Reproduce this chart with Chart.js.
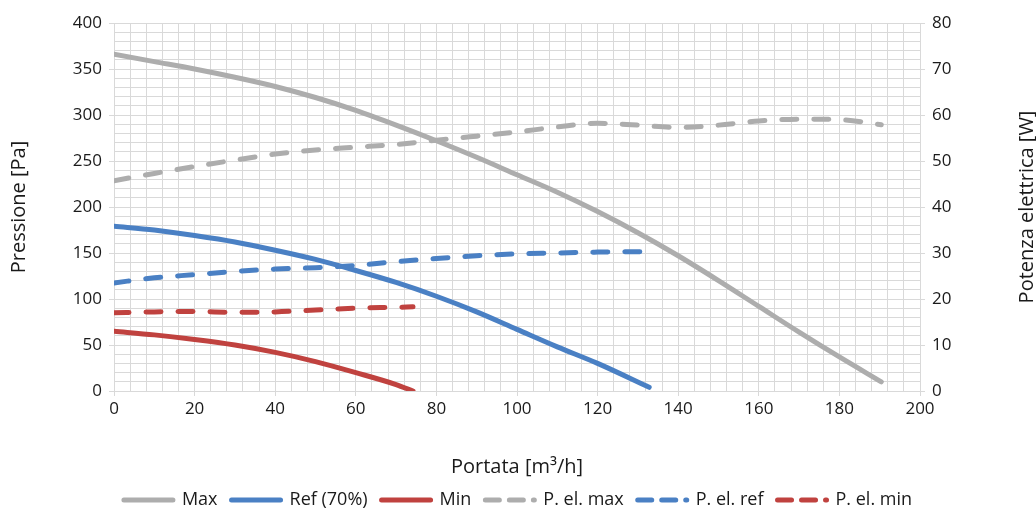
<!DOCTYPE html>
<html>
<head>
<meta charset="utf-8">
<script src="https://cdn.jsdelivr.net/npm/chart.js@4"></script>
<style>
  html, body { margin: 0; padding: 0; background: #fff; }
  #wrap { width: 1036px; height: 510px; }
</style>
</head>
<body>
<div id="wrap"><canvas id="chart" width="1036" height="510"></canvas></div>
<script>
// Portata [m3/h] for each curve
const qMax = [0, 10, 20, 30, 40, 50, 60, 70, 80, 90, 100, 110, 120, 130, 140, 150, 160, 170, 180, 190.4];
const qRef = [0, 10, 20, 30, 40, 50, 60, 70, 80, 90, 100, 110, 120, 132.8];
const qMin = [0, 10, 20, 30, 40, 50, 60, 70, 74.2];

// Pressione [Pa]
const pressMax = [366, 358, 350, 341, 331, 319, 305, 289, 272, 254, 235, 216, 195, 172, 147, 120, 92, 64, 37, 10];
const pressRef = [179, 175, 169, 162, 153, 143, 131, 118, 103, 86, 67, 48, 30, 4];
const pressMin = [65, 61, 56, 50, 42, 32, 20, 7, 0];

// Potenza elettrica [W]
const powMax = [45.7, 47.3, 48.8, 50.2, 51.5, 52.4, 53.0, 53.6, 54.5, 55.4, 56.3, 57.4, 58.2, 57.8, 57.3, 57.8, 58.7, 59.1, 59.0, 57.9];
const powRef = [23.5, 24.6, 25.3, 26.0, 26.5, 26.8, 27.3, 28.1, 28.8, 29.4, 29.8, 30.0, 30.2, 30.3];
const powMin = [17.0, 17.2, 17.3, 17.1, 17.2, 17.6, 18.0, 18.2, 18.3];

const xLabelStep = 20;
const yLabelStep = 50;

const gray = '#adadad';
const blue = '#4a80c4';
const red = '#c0423f';
const textColor = '#1a1a1a';
const gridColor = '#d9d9d9';
const lineDash = [15, 17];
const fontFamily = '"Open Sans"';

function pts(xs, ys) {
    return xs.map((x, i) => ({ x: x, y: ys[i] }));
}

function series(label, xs, ys, color, axis, dashed) {
    return {
        label: label,
        data: pts(xs, ys),
        yAxisID: axis,
        borderColor: color,
        backgroundColor: color,
        borderWidth: 5,
        borderDash: dashed ? lineDash : [],
        borderCapStyle: 'round',
        borderJoinStyle: 'round',
        cubicInterpolationMode: 'monotone',
        pointRadius: 0,
        fill: false
    };
}

// right axis title, reading bottom to top like the left one
const rightTitle = {
    id: 'rightTitle',
    afterDraw(chart) {
        const ctx = chart.ctx;
        const area = chart.chartArea;
        ctx.save();
        ctx.translate(1027, (area.top + area.bottom) / 2);
        ctx.rotate(-Math.PI / 2);
        ctx.font = '20px ' + fontFamily;
        ctx.fillStyle = textColor;
        ctx.textAlign = 'center';
        ctx.textBaseline = 'middle';
        ctx.fillText('Potenza elettrica [W]', 0, 0);
        ctx.restore();
    }
};

Chart.defaults.font.family = fontFamily;
Chart.defaults.font.size = 17;
Chart.defaults.color = textColor;

new Chart(document.getElementById('chart'), {
    type: 'line',
    data: {
        datasets: [
            series('Max', qMax, pressMax, gray, 'y', false),
            series('Ref (70%)', qRef, pressRef, blue, 'y', false),
            series('Min', qMin, pressMin, red, 'y', false),
            series('P. el. max', qMax, powMax, gray, 'y1', true),
            series('P. el. ref', qRef, powRef, blue, 'y1', true),
            series('P. el. min', qMin, powMin, red, 'y1', true)
        ]
    },
    options: {
        responsive: false,
        animation: false,
        layout: { padding: { top: 23, bottom: -9, left: 0, right: 0 } },
        plugins: {
            tooltip: { enabled: false },
            legend: {
                position: 'bottom',
                labels: {
                    usePointStyle: true,
                    pointStyle: 'line',
                    pointStyleWidth: 49,
                    padding: 14,
                    font: { size: 18 },
                    generateLabels(chart) {
                        return chart.data.datasets.map((ds, i) => ({
                            text: ds.label,
                            datasetIndex: i,
                            fillStyle: ds.borderColor,
                            strokeStyle: ds.borderColor,
                            fontColor: textColor,
                            lineWidth: 5,
                            lineCap: 'round',
                            lineDash: ds.borderDash.length ? [14, 10] : [],
                            pointStyle: 'line',
                            hidden: false
                        }));
                    }
                }
            }
        },
        scales: {
            x: {
                type: 'linear',
                min: 0,
                max: 200,
                afterFit(scale) { scale.height = 86; },
                ticks: {
                    stepSize: 4,
                    autoSkip: false,
                    maxRotation: 0,
                    padding: 3,
                    callback: v => (v % xLabelStep === 0 ? v : '')
                },
                grid: {
                    color: gridColor,
                    tickLength: 5,
                    tickColor: c => (c.tick && c.tick.value % xLabelStep === 0 ? gridColor : 'rgba(0,0,0,0)')
                },
                border: { color: gridColor },
                title: {
                    display: true,
                    text: 'Portata [m³/h]',
                    font: { size: 20 },
                    padding: { top: 0, bottom: -2 }
                }
            },
            y: {
                position: 'left',
                min: 0,
                max: 400,
                afterFit(scale) { scale.width = 114; },
                ticks: {
                    stepSize: 10,
                    autoSkip: false,
                    padding: 7,
                    callback: v => (v % yLabelStep === 0 ? v : '')
                },
                grid: {
                    color: gridColor,
                    tickLength: 5,
                    tickColor: c => (c.tick && c.tick.value % yLabelStep === 0 ? gridColor : 'rgba(0,0,0,0)')
                },
                border: { color: gridColor },
                title: {
                    display: true,
                    text: 'Pressione [Pa]',
                    font: { size: 20 },
                    padding: { top: 7, bottom: 0 }
                }
            },
            y1: {
                position: 'right',
                min: 0,
                max: 80,
                afterFit(scale) { scale.width = 116; },
                ticks: {
                    stepSize: 10,
                    autoSkip: false,
                    padding: 7
                },
                grid: {
                    drawOnChartArea: false,
                    color: gridColor,
                    tickLength: 5
                },
                border: { color: gridColor }
            }
        }
    },
    plugins: [rightTitle]
});
</script>
</body>
</html>
